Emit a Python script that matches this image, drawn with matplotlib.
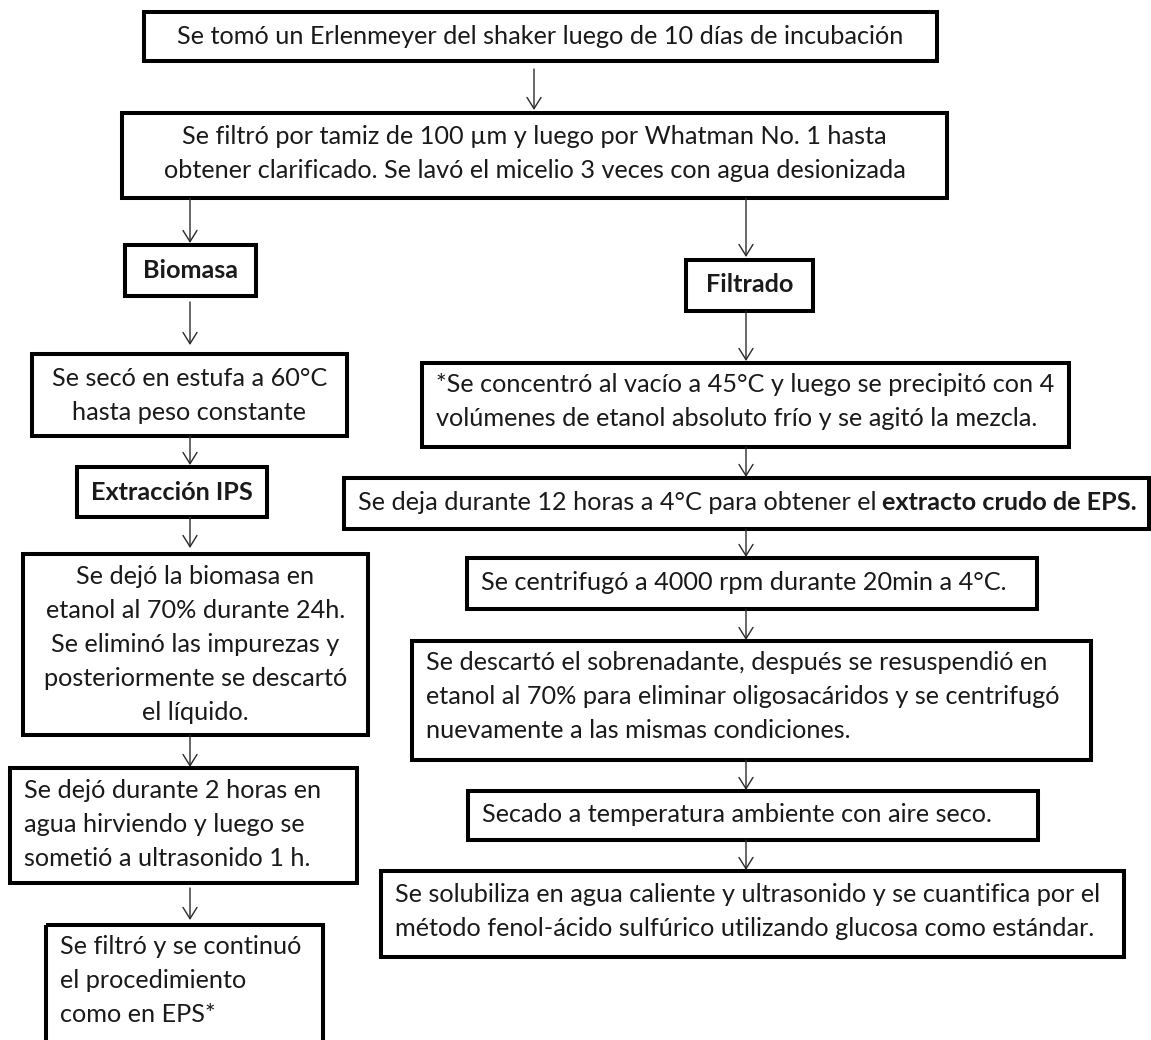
import matplotlib.pyplot as plt
from matplotlib.patches import Rectangle

plt.rcParams['font.family'] = ['Lato', 'DejaVu Sans']

# textos del diagrama
paso_inicio = ["Se tomó un Erlenmeyer del shaker luego de 10 días de incubación"]
paso_filtrar = ["Se filtró por tamiz de 100 µm y luego por Whatman No. 1 hasta",
                "obtener clarificado. Se lavó el micelio 3 veces con agua desionizada"]
rama_biomasa = ["Biomasa"]
paso_secado_bio = ["Se secó en estufa a 60°C", "hasta peso constante"]
rama_ips = ["Extracción IPS"]
paso_etanol = ["Se dejó la biomasa en", "etanol al 70% durante 24h.",
               "Se eliminó las impurezas y", "posteriormente se descartó",
               "el líquido."]
paso_hervir = ["Se dejó durante 2 horas en", "agua hirviendo y luego se",
               "sometió a ultrasonido 1 h."]
paso_continuar = ["Se filtró y se continuó", "el procedimiento", "como en EPS*"]

rama_filtrado = ["Filtrado"]
paso_concentrar = ["*Se concentró al vacío a 45°C y luego se precipitó con 4",
                   "volúmenes de etanol absoluto frío y se agitó la mezcla."]
paso_reposo = "Se deja durante 12 horas a 4°C para obtener el"
paso_reposo_negrita = "extracto crudo de EPS."
paso_centrifugar = ["Se centrifugó a 4000 rpm durante 20min a 4°C."]
paso_descartar = ["Se descartó el sobrenadante, después se resuspendió en",
                  "etanol al 70% para eliminar oligosacáridos y se centrifugó",
                  "nuevamente a las mismas condiciones."]
paso_secar = ["Secado a temperatura ambiente con aire seco."]
paso_cuantificar = ["Se solubiliza en agua caliente y ultrasonido y se cuantifica por el",
                    "método fenol-ácido sulfúrico utilizando glucosa como estándar."]

# layout in pixels: x0, y0, x1, y1, text centre y, alignment, bold
cajas = [
    (paso_inicio, 144, 12, 937, 61, 37, 'center', False),
    (paso_filtrar, 122, 113, 947, 198, 154, 'center', False),
    (rama_biomasa, 125, 245, 256, 296, 270, 'center', True),
    (paso_secado_bio, 32, 354, 347, 436, 396, 'center', False),
    (rama_ips, 77, 467, 267, 517, 492, 'center', True),
    (paso_etanol, 23, 554, 368, 735, 645, 'center', False),
    (paso_hervir, 10, 768, 357, 883, 825, 'left', False),
    (paso_continuar, 46, 925, 323, 1060, 981, 'left', False),
    (rama_filtrado, 686, 260, 813, 311, 285, 'center', True),
    (paso_concentrar, 422, 363, 1069, 447, 401, 'left', False),
    (paso_centrifugar, 467, 558, 1037, 609, 583, 'left', False),
    (paso_descartar, 412, 641, 1091, 760, 697, 'left', False),
    (paso_secar, 468, 791, 1038, 840, 815, 'left', False),
    (paso_cuantificar, 381, 871, 1124, 957, 912, 'left', False),
]
caja_reposo = (344, 478, 1149, 529, 503)

flechas = [
    (534, 69, 110), (190, 198, 243), (190, 302, 345), (190, 436, 465),
    (190, 517, 548), (190, 735, 767), (190, 888, 920),
    (746, 198, 257), (746, 311, 361), (746, 447, 477), (746, 529, 557),
    (746, 609, 640), (746, 760, 790), (746, 840, 870),
]

fig = plt.figure(figsize=(11.51, 10.40), dpi=100)
ax = fig.add_axes([0, 0, 1, 1])
ax.set_xlim(0, 1151)
ax.set_ylim(1040, 0)
ax.axis('off')

fs = 18.2
color_texto = '#1a1a1a'
sep = 34

for lineas, x0, y0, x1, y1, yc, align, bold in cajas:
    ax.add_patch(Rectangle((x0, y0), x1 - x0, y1 - y0, fill=False,
                           edgecolor='black', linewidth=2.9, joinstyle='miter'))
    n = len(lineas)
    for i, txt in enumerate(lineas):
        y = yc + (i - (n - 1) / 2) * sep
        if align == 'center':
            x, ha = (x0 + x1) / 2, 'center'
        else:
            x, ha = x0 + 14, 'left'
        ax.text(x, y, txt, ha=ha, va='center', fontsize=fs, color=color_texto,
                fontweight='bold' if bold else 'normal')

x0, y0, x1, y1, yc = caja_reposo
ax.add_patch(Rectangle((x0, y0), x1 - x0, y1 - y0, fill=False,
                       edgecolor='black', linewidth=2.9, joinstyle='miter'))
t = ax.text(x0 + 14, yc, paso_reposo, ha='left', va='center', fontsize=fs,
            color=color_texto)
fig.canvas.draw()
bb = t.get_window_extent(renderer=fig.canvas.get_renderer())
x_fin = ax.transData.inverted().transform((bb.x1, bb.y0))[0]
ax.text(x_fin + 6, yc, paso_reposo_negrita, ha='left', va='center', fontsize=fs,
        color=color_texto, fontweight='bold')

for x, ya, yb in flechas:
    ax.annotate('', xy=(x, yb), xytext=(x, ya),
                arrowprops=dict(arrowstyle='->,head_length=0.45,head_width=0.28',
                                color='#2a2a2a', lw=1.0, mutation_scale=18,
                                shrinkA=0, shrinkB=0))

fig.savefig('out.png', dpi=100, facecolor='white')
